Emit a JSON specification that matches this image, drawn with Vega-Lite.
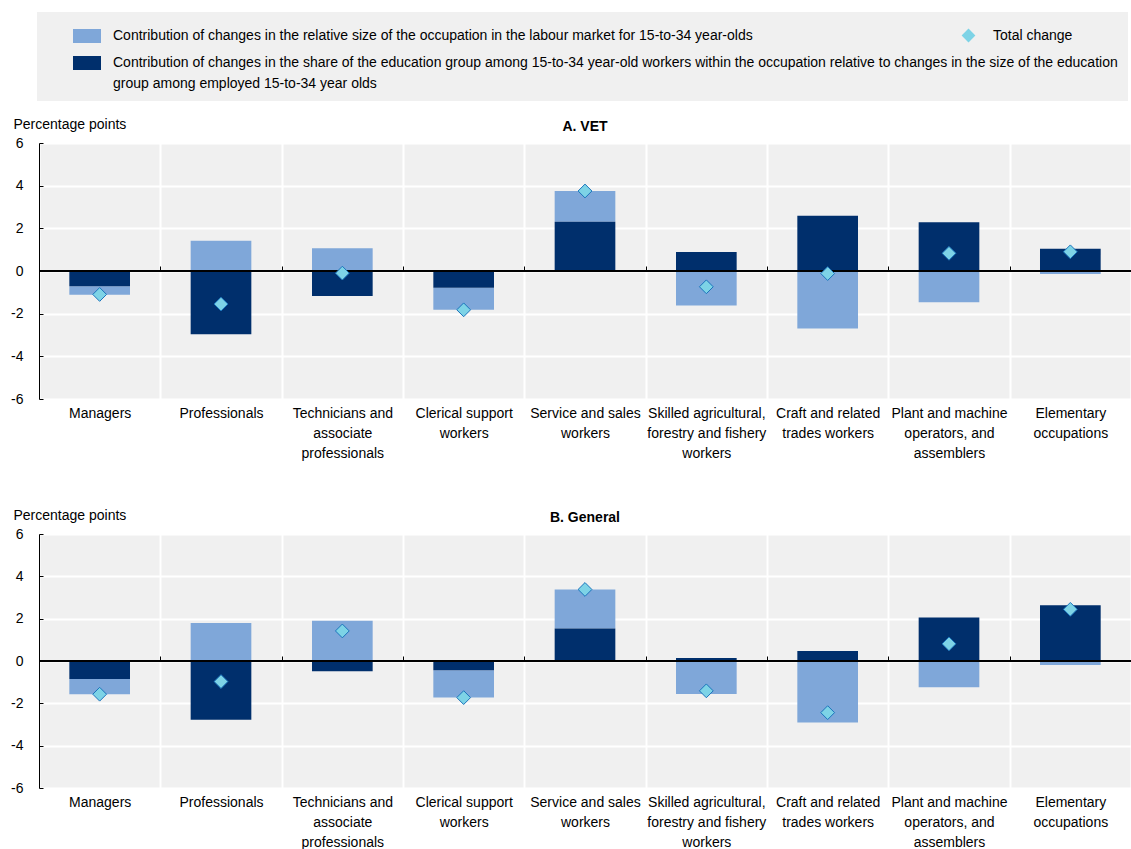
{
  "$schema": "https://vega.github.io/schema/vega-lite/v6.json",
  "background": "white",
  "padding": {"left": 10, "top": 12, "right": 0, "bottom": 0},
  "autosize": {"type": "pad"},
  "config": {
    "font": "Liberation Sans",
    "view": {"fill": "#f0f0f0", "stroke": null},
    "axis": {"labelFont": "Liberation Sans", "labelFontSize": 14, "labelColor": "black", "titleFont": "Liberation Sans", "titleFontSize": 14, "titleColor": "black", "titleFontWeight": "normal"},
    "legend": {"labelFont": "Liberation Sans", "labelFontSize": 14, "labelColor": "black"},
    "title": {"font": "Liberation Sans", "fontSize": 14, "fontWeight": "bold", "color": "black"},
    "style": {"guide-label": {"lineHeight": 20.5}}
  },
  "datasets": {
    "main": [
      {"panel": "A. VET", "occupation": "Managers", "size": -0.39, "share": -0.72, "total": -1.10},
      {"panel": "A. VET", "occupation": "Professionals", "size": 1.42, "share": -2.96, "total": -1.55},
      {"panel": "A. VET", "occupation": "Technicians and associate professionals", "size": 1.07, "share": -1.17, "total": -0.10},
      {"panel": "A. VET", "occupation": "Clerical support workers", "size": -1.04, "share": -0.78, "total": -1.82},
      {"panel": "A. VET", "occupation": "Service and sales workers", "size": 1.44, "share": 2.31, "total": 3.75},
      {"panel": "A. VET", "occupation": "Skilled agricultural, forestry and fishery workers", "size": -1.62, "share": 0.89, "total": -0.74},
      {"panel": "A. VET", "occupation": "Craft and related trades workers", "size": -2.70, "share": 2.59, "total": -0.12},
      {"panel": "A. VET", "occupation": "Plant and machine operators, and assemblers", "size": -1.46, "share": 2.29, "total": 0.83},
      {"panel": "A. VET", "occupation": "Elementary occupations", "size": -0.14, "share": 1.04, "total": 0.90},
      {"panel": "B. General", "occupation": "Managers", "size": -0.72, "share": -0.85, "total": -1.57},
      {"panel": "B. General", "occupation": "Professionals", "size": 1.79, "share": -2.77, "total": -0.97},
      {"panel": "B. General", "occupation": "Technicians and associate professionals", "size": 1.90, "share": -0.49, "total": 1.42},
      {"panel": "B. General", "occupation": "Clerical support workers", "size": -1.29, "share": -0.44, "total": -1.73},
      {"panel": "B. General", "occupation": "Service and sales workers", "size": 1.85, "share": 1.53, "total": 3.38},
      {"panel": "B. General", "occupation": "Skilled agricultural, forestry and fishery workers", "size": -1.56, "share": 0.14, "total": -1.41},
      {"panel": "B. General", "occupation": "Craft and related trades workers", "size": -2.91, "share": 0.47, "total": -2.44},
      {"panel": "B. General", "occupation": "Plant and machine operators, and assemblers", "size": -1.24, "share": 2.06, "total": 0.81},
      {"panel": "B. General", "occupation": "Elementary occupations", "size": -0.19, "share": 2.63, "total": 2.44}
    ]
  },
  "spacing": 48,
  "vconcat": [
    {
      "width": 1092, "height": 256,
      "title": {"text": "A. VET", "anchor": "middle", "frame": "group", "offset": -17},
      "data": {"name": "main"},
      "transform": [{"filter": "datum.panel == 'A. VET'"}],
      "resolve": {"axis": {"x": "independent"}},
      "layer": [
        {
          "mark": {"type": "bar", "width": {"band": 0.5}},
          "transform": [{"fold": ["size", "share"], "as": ["component", "value"]}],
          "encoding": {
            "x": {"field": "occupation", "type": "nominal",
              "sort": ["Managers", "Professionals", "Technicians and associate professionals", "Clerical support workers", "Service and sales workers", "Skilled agricultural, forestry and fishery workers", "Craft and related trades workers", "Plant and machine operators, and assemblers", "Elementary occupations"],
              "scale": {"paddingInner": 0, "paddingOuter": 0},
              "axis": {"orient": "bottom", "title": null, "ticks": false, "tickSize": 0, "domain": false, "grid": true, "gridColor": "white", "gridWidth": 2, "tickBand": "extent", "labelAngle": 0, "labelPadding": 7, "labelBaseline": "top", "labelLineHeight": 20,
                "labelExpr": "datum.value == 'Technicians and associate professionals' ? ['Technicians and', 'associate', 'professionals'] : datum.value == 'Clerical support workers' ? ['Clerical support', 'workers'] : datum.value == 'Service and sales workers' ? ['Service and sales', 'workers'] : datum.value == 'Skilled agricultural, forestry and fishery workers' ? ['Skilled agricultural,', 'forestry and fishery', 'workers'] : datum.value == 'Craft and related trades workers' ? ['Craft and related', 'trades workers'] : datum.value == 'Plant and machine operators, and assemblers' ? ['Plant and machine', 'operators, and', 'assemblers'] : datum.value == 'Elementary occupations' ? ['Elementary', 'occupations'] : datum.label"}},
            "y": {"field": "value", "type": "quantitative", "stack": "zero", "title": "Percentage points",
              "scale": {"domain": [-6, 6], "nice": false},
              "axis": {"values": [-6, -4, -2, 0, 2, 4, 6], "labelExpr": "'' + datum.value", "domainColor": "black", "tickColor": "black", "tickSize": -4, "labelPadding": 20, "gridColor": "white", "gridWidth": 2, "titleAngle": 0, "titleAlign": "left", "titleBaseline": "middle", "titleX": -26, "titleY": -19}},
            "fill": {"field": "component", "type": "nominal",
              "scale": {"domain": ["size", "share"], "range": ["#7FA7D9", "#002F6C"]},
              "legend": {"orient": "none", "legendX": -2, "legendY": -131, "direction": "vertical", "title": null, "fillColor": "#f0f0f0", "padding": 10, "symbolOffset": 26, "symbolType": "M-1,-0.5H1V0.5H-1Z", "symbolSize": 784, "symbolStrokeWidth": 0, "labelOffset": 12, "labelLimit": 1200, "rowPadding": 6,
                "labelExpr": "datum.value == 'size' ? 'Contribution of changes in the relative size of the occupation in the labour market for 15-to-34 year-olds' : ['Contribution of changes in the share of the education group among 15-to-34 year-old workers within the occupation relative to changes in the size of the education', 'group among employed 15-to-34 year olds']"}},
            "order": {"field": "component", "sort": "ascending"}
          }
        },
        {
          "mark": {"type": "rule", "color": "black", "strokeWidth": 1.5},
          "encoding": {"y": {"datum": 0, "title": "Percentage points"}}
        },
        {
          "mark": {"type": "point", "filled": true, "fill": "#7DD3E6", "stroke": "#1B74BC", "strokeWidth": 1, "size": 190, "opacity": 1},
          "encoding": {
            "x": {"field": "occupation", "type": "nominal",
              "sort": ["Managers", "Professionals", "Technicians and associate professionals", "Clerical support workers", "Service and sales workers", "Skilled agricultural, forestry and fishery workers", "Craft and related trades workers", "Plant and machine operators, and assemblers", "Elementary occupations"],
              "axis": {"orient": "top", "offset": -128, "title": null, "labels": false, "domain": false, "grid": false, "ticks": true, "tickSize": 5, "tickColor": "black", "tickBand": "extent"}},
            "y": {"field": "total", "type": "quantitative", "title": "Percentage points"},
            "shape": {"datum": "Total change", "scale": {"range": ["diamond"]},
              "legend": {"orient": "none", "legendX": 922, "legendY": -115, "title": null, "padding": 0, "symbolSize": 190, "symbolFillColor": "#7DD3E6", "symbolStrokeColor": "#1B74BC", "symbolStrokeWidth": 1, "labelOffset": 17}}
          }
        }
      ]
    },
    {
      "width": 1092, "height": 254,
      "title": {"text": "B. General", "anchor": "middle", "frame": "group", "offset": -17},
      "data": {"name": "main"},
      "transform": [{"filter": "datum.panel == 'B. General'"}],
      "resolve": {"axis": {"x": "independent"}},
      "layer": [
        {
          "mark": {"type": "bar", "width": {"band": 0.5}},
          "transform": [{"fold": ["size", "share"], "as": ["component", "value"]}],
          "encoding": {
            "x": {"field": "occupation", "type": "nominal",
              "sort": ["Managers", "Professionals", "Technicians and associate professionals", "Clerical support workers", "Service and sales workers", "Skilled agricultural, forestry and fishery workers", "Craft and related trades workers", "Plant and machine operators, and assemblers", "Elementary occupations"],
              "scale": {"paddingInner": 0, "paddingOuter": 0},
              "axis": {"orient": "bottom", "title": null, "ticks": false, "tickSize": 0, "domain": false, "grid": true, "gridColor": "white", "gridWidth": 2, "tickBand": "extent", "labelAngle": 0, "labelPadding": 7, "labelBaseline": "top", "labelLineHeight": 20,
                "labelExpr": "datum.value == 'Technicians and associate professionals' ? ['Technicians and', 'associate', 'professionals'] : datum.value == 'Clerical support workers' ? ['Clerical support', 'workers'] : datum.value == 'Service and sales workers' ? ['Service and sales', 'workers'] : datum.value == 'Skilled agricultural, forestry and fishery workers' ? ['Skilled agricultural,', 'forestry and fishery', 'workers'] : datum.value == 'Craft and related trades workers' ? ['Craft and related', 'trades workers'] : datum.value == 'Plant and machine operators, and assemblers' ? ['Plant and machine', 'operators, and', 'assemblers'] : datum.value == 'Elementary occupations' ? ['Elementary', 'occupations'] : datum.label"}},
            "y": {"field": "value", "type": "quantitative", "stack": "zero", "title": "Percentage points",
              "scale": {"domain": [-6, 6], "nice": false},
              "axis": {"values": [-6, -4, -2, 0, 2, 4, 6], "labelExpr": "'' + datum.value", "domainColor": "black", "tickColor": "black", "tickSize": -4, "labelPadding": 20, "gridColor": "white", "gridWidth": 2, "titleAngle": 0, "titleAlign": "left", "titleBaseline": "middle", "titleX": -26, "titleY": -19}},
            "fill": {"field": "component", "type": "nominal",
              "scale": {"domain": ["size", "share"], "range": ["#7FA7D9", "#002F6C"]}},
            "order": {"field": "component", "sort": "ascending"}
          }
        },
        {
          "mark": {"type": "rule", "color": "black", "strokeWidth": 1.5},
          "encoding": {"y": {"datum": 0, "title": "Percentage points"}}
        },
        {
          "mark": {"type": "point", "filled": true, "fill": "#7DD3E6", "stroke": "#1B74BC", "strokeWidth": 1, "size": 190, "opacity": 1},
          "encoding": {
            "x": {"field": "occupation", "type": "nominal",
              "sort": ["Managers", "Professionals", "Technicians and associate professionals", "Clerical support workers", "Service and sales workers", "Skilled agricultural, forestry and fishery workers", "Craft and related trades workers", "Plant and machine operators, and assemblers", "Elementary occupations"],
              "axis": {"orient": "top", "offset": -127, "title": null, "labels": false, "domain": false, "grid": false, "ticks": true, "tickSize": 5, "tickColor": "black", "tickBand": "extent"}},
            "y": {"field": "total", "type": "quantitative", "title": "Percentage points"},
            "shape": {"datum": "Total change", "scale": {"range": ["diamond"]}}
          }
        }
      ]
    }
  ]
}
